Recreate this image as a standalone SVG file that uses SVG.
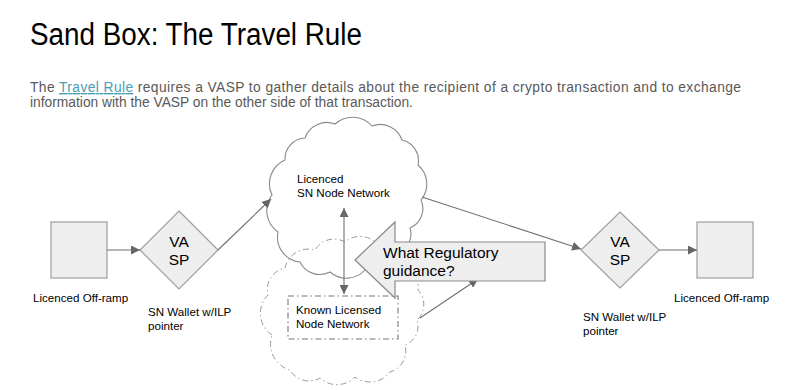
<svg xmlns="http://www.w3.org/2000/svg" width="800" height="390" viewBox="0 0 800 390">
<defs>
<style>
text{font-family:"Liberation Sans",Arial,sans-serif;fill:#000}
.title{font-size:31px}
.body{font-size:13.8px;fill:#595959}
.link{fill:#4a9db3;text-decoration:underline}
.lbl{font-size:11.6px}
.big{font-size:15.5px}
.shape{fill:#eeeeee;stroke:#9e9e9e;stroke-width:1.2}
.conn{fill:none;stroke:#6f6f6f;stroke-width:1.1}
.cloud{fill:none;stroke:#8a8a8a;stroke-width:1.1}
.dcloud{fill:none;stroke:#9a9a9a;stroke-width:1;stroke-dasharray:6 3 1.5 3}
.drect{fill:none;stroke:#777;stroke-width:1.1;stroke-dasharray:6 3 1.5 3}
</style>
<marker id="ah" viewBox="0 0 10 10" refX="10" refY="5" markerWidth="9" markerHeight="9" markerUnits="userSpaceOnUse" orient="auto-start-reverse">
<path d="M0,0 L10,5 L0,10 z" fill="#666"/>
</marker>
</defs>
<rect width="800" height="390" fill="#fff"/>

<text class="title" x="30" y="45" textLength="332" lengthAdjust="spacingAndGlyphs">Sand Box: The Travel Rule</text>
<text class="body" x="30" y="92" textLength="711" lengthAdjust="spacing">The <tspan class="link">Travel Rule</tspan> requires a VASP to gather details about the recipient of a crypto transaction and to exchange</text>
<text class="body" x="30" y="107">information with the VASP on the other side of that transaction.</text>

<g id="cloud-known">
<path class="dcloud" d="M272,335 A26,26 0 0 1 268,295 A22,22 0 0 1 285,268 A24,24 0 0 1 315,250 A22,22 0 0 1 345,242 A23,23 0 0 1 378,245 A21,21 0 0 1 400,265 A22,22 0 0 1 418,290 A21,21 0 0 1 417,320 A20,20 0 0 1 405,345 A22,22 0 0 1 390,372 A25,25 0 0 1 355,377 A25,25 0 0 1 320,378 A22,22 0 0 1 290,370 A27,27 0 0 1 272,335 Z"/>
</g>

<g id="cloud-licenced">
<path class="cloud" d="M278,232 A26,26 0 0 1 272,195 A26,26 0 0 1 285,160 A21,21 0 0 1 305,138 A23,23 0 0 1 335,124 A26,26 0 0 1 372,126 A23,23 0 0 1 402,140 A21,21 0 0 1 418,165 A25,25 0 0 1 421,200 A21,21 0 0 1 410,228 A19,19 0 0 1 398,252 A26,26 0 0 1 365,270 A25,25 0 0 1 330,272 A22,22 0 0 1 300,262 A25,25 0 0 1 278,232 Z"/>
<text class="lbl" x="297" y="183">Licenced</text>
<text class="lbl" x="297" y="197">SN Node Network</text>
</g>

<g id="known-network">
<rect class="drect" x="288" y="296" width="110" height="43"/>
<text class="lbl" x="296" y="314">Known Licensed</text>
<text class="lbl" x="296" y="328">Node Network</text>
</g>

<g id="offramp-left">
<rect class="shape" x="51" y="222" width="56" height="56"/>
<text class="lbl" x="33" y="302">Licenced Off-ramp</text>
</g>

<g id="vasp-left">
<polygon class="shape" points="179,211 218,250 179,289 140,250"/>
<text class="big" x="179" y="247" text-anchor="middle">VA</text>
<text class="big" x="179" y="265" text-anchor="middle">SP</text>
<text class="lbl" x="148" y="316">SN Wallet w/ILP</text>
<text class="lbl" x="148" y="330">pointer</text>
</g>

<g id="vasp-right">
<polygon class="shape" points="620,212 659,250 620,288 581,250"/>
<text class="big" x="620" y="247" text-anchor="middle">VA</text>
<text class="big" x="620" y="265" text-anchor="middle">SP</text>
<text class="lbl" x="583" y="321">SN Wallet w/ILP</text>
<text class="lbl" x="583" y="335">pointer</text>
</g>

<g id="offramp-right">
<rect class="shape" x="697" y="222" width="56" height="56"/>
<text class="lbl" x="674" y="302">Licenced Off-ramp</text>
</g>

<g id="connectors">
<line class="conn" x1="107" y1="250" x2="140" y2="250" marker-end="url(#ah)"/>
<line class="conn" x1="218" y1="250" x2="271" y2="199" marker-end="url(#ah)"/>
<line class="conn" x1="422" y1="197" x2="581" y2="249" marker-end="url(#ah)"/>
<line class="conn" x1="659" y1="250" x2="697" y2="250" marker-end="url(#ah)"/>
<line class="conn" x1="344" y1="208" x2="344" y2="294" marker-start="url(#ah)" marker-end="url(#ah)"/>
<line class="conn" x1="420" y1="318" x2="478" y2="279" marker-end="url(#ah)"/>
</g>

<g id="guidance">
<polygon class="shape" points="355,260 395,222 395,242 545,242 545,281 395,281 395,298" style="stroke:#8a8a8a"/>
<text class="big" x="383" y="258">What Regulatory</text>
<text class="big" x="383" y="276">guidance?</text>
</g>
</svg>
